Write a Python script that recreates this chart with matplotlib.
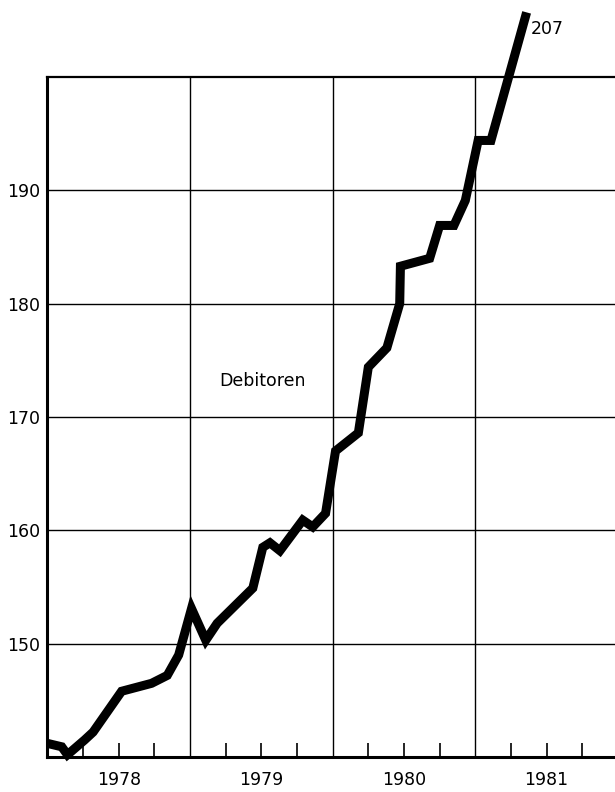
import matplotlib.pyplot as plt

# Debitoren (decimal year, value)
years = [1978.00, 1978.10, 1978.14, 1978.26, 1978.32, 1978.52, 1978.73, 1978.84,
         1978.92, 1979.01, 1979.11, 1979.19, 1979.44, 1979.51, 1979.56, 1979.63,
         1979.79, 1979.86, 1979.95, 1980.02, 1980.18, 1980.25, 1980.38, 1980.47,
         1980.475, 1980.68, 1980.75, 1980.85, 1980.93, 1981.02, 1981.11, 1981.36]
values = [141.2, 140.9, 140.2, 141.5, 142.2, 145.8, 146.5, 147.2,
          149.0, 153.1, 150.3, 151.8, 154.9, 158.5, 158.9, 158.2,
          160.9, 160.3, 161.5, 167.0, 168.6, 174.4, 176.1, 180.0,
          183.3, 184.0, 186.9, 186.9, 189.1, 194.4, 194.4, 205.7]

year_labels = ['1978', '1979', '1980', '1981']
year_starts = [1978, 1979, 1980, 1981]
y_ticks = [150, 160, 170, 180, 190]

plt.rcParams['font.family'] = ['DejaVu Sans']
fs = 12.5

fig = plt.figure(figsize=(6.15, 7.92), dpi=100)
ax = fig.add_axes([0.0772, 0.0442, 0.9275, 0.8586])

ax.set_xlim(1978, 1982)
ax.set_ylim(140, 200)

# horizontal grid at the y ticks, vertical lines at year boundaries
ax.set_yticks(y_ticks)
ax.tick_params(axis='y', length=0, pad=5, labelsize=fs)
ax.yaxis.grid(True, color='black', linewidth=1.0)
for yr in year_starts[1:]:
    ax.axvline(yr, color='black', linewidth=1.0, zorder=1)

# year labels at mid-year, quarter ticks pointing inward
ax.set_xticks([y + 0.5 for y in year_starts])
ax.set_xticklabels(year_labels)
ax.set_xticks([y + q for y in year_starts for q in (0.25, 0.75)], minor=True)
ax.tick_params(axis='x', which='both', direction='in', length=10, width=1.2,
               pad=10, labelsize=fs)

for side in ['left', 'bottom']:
    ax.spines[side].set_linewidth(2.2)
ax.spines['top'].set_linewidth(1.6)
ax.spines['right'].set_visible(False)

ax.plot(years, values, color='black', linewidth=6.5, solid_joinstyle='miter',
        solid_capstyle='butt', clip_on=False, zorder=3)

ax.annotate('207', (years[-1], values[-1]), xytext=(3, -12),
            textcoords='offset points', fontsize=fs, ha='left', va='center',
            annotation_clip=False)
ax.text(1979.51, 173.2, 'Debitoren', fontsize=fs, ha='center', va='center')

fig.savefig('out.png', dpi=100)
